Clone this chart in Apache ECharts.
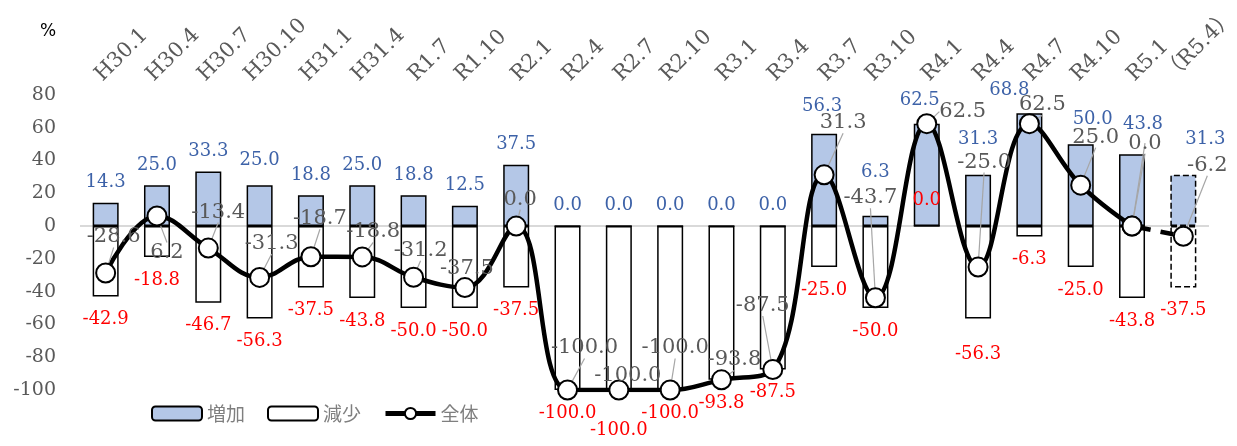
<!DOCTYPE html>
<html><head><meta charset="utf-8">
<script src="https://cdn.jsdelivr.net/npm/echarts@6/dist/echarts.min.js"></script>
<style>html,body{margin:0;padding:0;background:#fff}#c{width:1237px;height:446px}</style>
</head><body><div id="c"></div>
<script>
const categories = ['H30.1','H30.4','H30.7','H30.10','H31.1','H31.4','R1.7','R1.10','R2.1','R2.4','R2.7','R2.10','R3.1','R3.4','R3.7','R3.10','R4.1','R4.4','R4.7','R4.10','R5.1','（R5.4）'];
const increase = [14.3,25.0,33.3,25.0,18.8,25.0,18.8,12.5,37.5,0.0,0.0,0.0,0.0,0.0,56.3,6.3,62.5,31.3,68.8,50.0,43.8,31.3];
const decrease = [-42.9,-18.8,-46.7,-56.3,-37.5,-43.8,-50.0,-50.0,-37.5,-100.0,-100.0,-100.0,-93.8,-87.5,-25.0,-50.0,0.0,-56.3,-6.3,-25.0,-43.8,-37.5];
const total = [-28.6,6.2,-13.4,-31.3,-18.7,-18.8,-31.2,-37.5,0.0,-100.0,-100.0,-100.0,-93.8,-87.5,31.3,-43.7,62.5,-25.0,62.5,25.0,0.0,-6.2];
const yTicks = {min:-100, max:80, interval:20};

// label placement (offsets in px)
const totalOffsets = [[8,-36],[10,37],[10,-36],[12,-34],[9,-38],[11,-25],[7,-27],[2,-19],[4,-27],[17,-42],[9,-14],[5,-42],[13,-20],[-10,-64],[19,-52],[-5,-100],[36,-12],[6,-105],[13,-19],[15,-48],[13,-83],[24,-71]];
const incOffsets = {3:[0,-5],14:[-2,-8],15:[0,-23],16:[-7,-3],17:[0,-15],18:[-20,-3],19:[12,-5],20:[11,-10],21:[22,-15]};
const decOffsets = {10:[0,17],16:[0,-50],17:[0,13]};
const projected = 21; // index of the projected (dashed) period

const serif = 'DejaVu Serif';
const fmt = v => Number(v).toFixed(1);

const incData = increase.map((v,i)=>({
  value:v,
  label:{offset: incOffsets[i] || [0,0]},
  itemStyle: i===projected ? {borderType:'dashed'} : {}
}));
const decData = decrease.map((v,i)=>({
  value:v,
  label:{offset: decOffsets[i] || [0,0]},
  itemStyle: i===projected ? {borderType:'dashed'} : {}
}));
const solidData = total.map((v,i)=> i<projected ? v : '-');
const dashData = total.map((v,i)=> i>=projected-1 ? v : '-');

const lineLabel = {
  show:true, position:'inside', color:'#595959', fontFamily:serif, fontSize:21,
  formatter: p => fmt(p.value)
};
const leader = {show:true, lineStyle:{color:'#A6A6A6', width:1.2}};
const layoutFn = p => { const o = totalOffsets[p.dataIndex]; return {dx:o[0], dy:o[1]}; };

const chart = echarts.init(document.getElementById('c'), null, {renderer:'canvas'});
chart.setOption({
  animation:false,
  title:{text:'%', left:35, top:18, textStyle:{fontFamily:'DejaVu Sans', fontSize:17, fontWeight:'normal', color:'#000'}},
  grid:{left:80, right:28, top:95, bottom:56},
  legend:{
    data:['増加','減少',{name:'全体', lineStyle:{width:5, color:'#000'}}],
    left:146, top:399, itemWidth:50, itemHeight:14, itemGap:22,
    textStyle:{fontFamily:'Noto Sans CJK JP', fontSize:19, color:'#7F7F7F'}
  },
  xAxis:{
    type:'category', position:'top', data:categories,
    axisLine:{show:false}, axisTick:{show:false}, axisLabel:{show:false}
  },
  yAxis:{
    type:'value', min:yTicks.min, max:yTicks.max, interval:yTicks.interval,
    axisLine:{show:false}, axisTick:{show:false},
    axisLabel:{margin:24, color:'#595959', fontFamily:serif, fontSize:19},
    splitLine:{show:true, lineStyle:{width:2, color: (function(){const c=[];for(let t=yTicks.min;t<=yTicks.max;t+=yTicks.interval)c.push(t===0?'#D9D9D9':'rgba(0,0,0,0)');return c;})()}}
  },
  series:[
    {name:'増加', type:'bar', data:incData, barWidth:26, barGap:'-100%',
     itemStyle:{color:'#B4C7E7', borderColor:'#000', borderWidth:1.5},
     label:{show:true, position:'top', distance:11, color:'#3D62A8', fontFamily:serif, fontSize:18, formatter:p=>fmt(p.value)}},
    {name:'減少', type:'bar', data:decData, barWidth:26, barGap:'-100%',
     itemStyle:{color:'#FFFFFF', borderColor:'#000', borderWidth:1.5},
     label:{show:true, position:'bottom', distance:14, color:'#FF0000', fontFamily:serif, fontSize:18, formatter:p=>fmt(p.value)}},
    {name:'全体予測', type:'line', data:dashData, smooth:0.4, z:3,
     symbol:'circle', symbolSize:19, showAllSymbol:true,
     lineStyle:{color:'#000', width:4.5, type:[13,10], dashOffset:-6},
     itemStyle:{color:'#fff', borderColor:'#000', borderWidth:2},
     label:Object.assign({}, lineLabel, {formatter: p => p.dataIndex===projected ? fmt(p.value) : ''}),
     labelLine:leader, labelLayout:layoutFn},
    {name:'全体', type:'line', data:solidData, smooth:0.4, z:4,
     symbol:'circle', symbolSize:19, showAllSymbol:true,
     lineStyle:{color:'#000', width:4.5},
     itemStyle:{color:'#fff', borderColor:'#000', borderWidth:2},
     label:lineLabel, labelLine:leader, labelLayout:layoutFn}
  ]
});

// Rotated category labels above the plot, placed from the category axis scale
const xFont = '21px "DejaVu Serif", "Noto Sans CJK JP"';
const ctx = document.createElement('canvas').getContext('2d');
ctx.font = xFont;
const gridTop = chart.convertToPixel({yAxisIndex:0}, yTicks.max);
const labels = categories.map((c,i)=>{
  const px = chart.convertToPixel({xAxisIndex:0}, i);
  const L = ctx.measureText(c).width;
  return {
    type:'text', x: px + 16, y: gridTop - 17 - 0.354*L, rotation: Math.PI/4,
    style:{text:c, font:xFont, fill:'#595959', align:'center', verticalAlign:'middle'}
  };
});
chart.setOption({graphic: labels});
</script></body></html>
